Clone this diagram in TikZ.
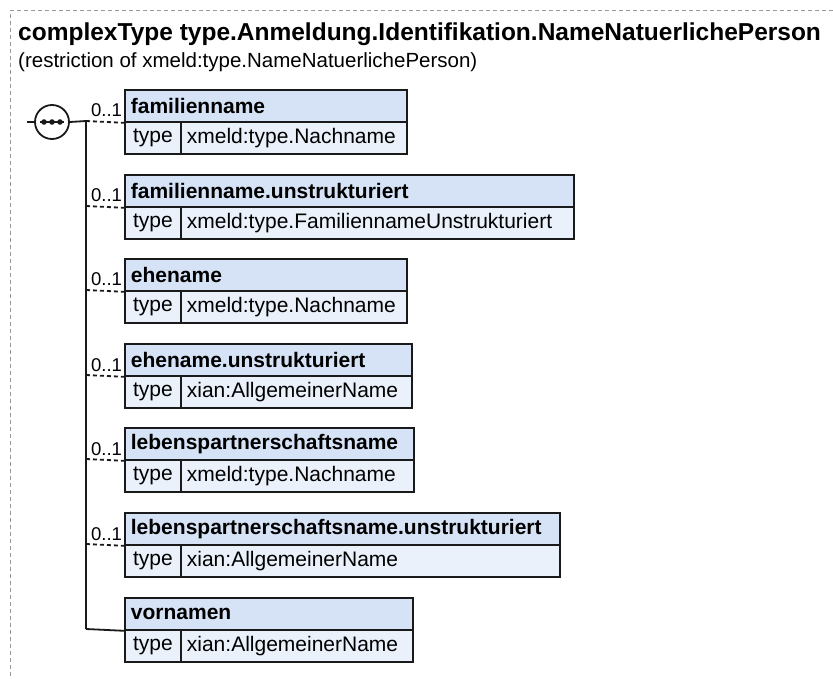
\documentclass[tikz,border=0pt]{standalone}
\usepackage{fontspec}
\setmainfont{Liberation Sans}
\definecolor{hdrfill}{HTML}{D6E3F7}
\definecolor{rowfill}{HTML}{EAF1FB}
\definecolor{framegray}{HTML}{999999}
\definecolor{edge}{HTML}{1A1A1A}
\tikzset{
  hdr/.style={draw=edge, fill=hdrfill, line width=1.8pt, anchor=north west, minimum height=32pt, inner xsep=6pt, inner ysep=0pt, align=left, font=\fontsize{21}{24}\selectfont\bfseries},
  typecell/.style={draw=edge, fill=rowfill, line width=1.8pt, anchor=north west, minimum height=32pt, minimum width=56pt, inner sep=0pt, font=\fontsize{21}{24}\selectfont},
  valcell/.style={draw=edge, fill=rowfill, line width=1.8pt, anchor=north west, minimum height=32pt, inner xsep=6pt, inner ysep=0pt, align=left, font=\fontsize{21}{24}\selectfont},
  conn/.style={line width=1.8pt, edge},
  optconn/.style={conn, dash pattern=on 4pt off 3pt},
  card/.style={font=\fontsize{18.5}{20}\selectfont, anchor=base, inner sep=0pt},
  frame/.style={framegray, line width=1pt, dash pattern=on 4pt off 3pt}
}
\begin{document}
\begin{tikzpicture}[x=1pt,y=-1pt]
\useasboundingbox (0,0) rectangle (833,679);
\coordinate (fa) at (10,11);
\coordinate (fb) at (833,11);
\coordinate (fc) at (10,679);
\draw[frame] (fb) -- (fa) -- (fc);
\node[anchor=base west, inner sep=0pt, font=\fontsize{24.5}{28}\selectfont\bfseries] (title) at (18,41) {complexType type.Anmeldung.Identifikation.NameNatuerlichePerson};
\node[anchor=base west, inner sep=0pt, font=\fontsize{20.5}{24}\selectfont] (sub) at (18,68) {(restriction of xmeld:type.NameNatuerlichePerson)};
% sequence compositor
\node[circle, draw=edge, fill=white, line width=1.8pt, minimum size=34pt, inner sep=0pt] (seq) at (52,122) {};
\coordinate (in) at (27,122);
\draw[conn] (in) -- (seq.west);
\draw[conn] ([xshift=-12pt]seq.center) -- ([xshift=12pt]seq.center);
\foreach \dx in {-8,0,8} \fill[edge] ([xshift=\dx pt]seq.center) circle (2.8pt);
% elements
\foreach \i/\top/\right/\name/\typ in {
  1/89/406/familienname/xmeld:type.Nachname,
  2/174/573/familienname.unstrukturiert/xmeld:type.FamiliennameUnstrukturiert,
  3/258/406/ehename/xmeld:type.Nachname,
  4/343/411/ehename.unstrukturiert/xian:AllgemeinerName,
  5/427/413/lebenspartnerschaftsname/xmeld:type.Nachname,
  6/512/559/lebenspartnerschaftsname.unstrukturiert/xian:AllgemeinerName,
  7/597/412/vornamen/xian:AllgemeinerName}{
  \pgfmathsetmacro{\hw}{\right-124-12}
  \pgfmathsetmacro{\vw}{\right-180-12}
  \node[hdr, text width=\hw pt] (h\i) at (124,\top) {\name};
  \node[typecell] (t\i) at (124,\top+32) {type};
  \node[valcell, text width=\vw pt] (v\i) at (180,\top+32) {\typ};
  \coordinate (j\i) at (86,\top+32);
}
\draw[conn] (seq.east) -- (j1);
\draw[conn] (j1) -- (j7);
\foreach \i in {1,...,6}{
  \draw[optconn] (j\i) -- (h\i.south west);
  \node[card] (c\i) at ([xshift=20.5pt,yshift=4pt]j\i) {0..1};
}
\draw[conn] (j7) -- (h7.south west);
\end{tikzpicture}
\end{document}
